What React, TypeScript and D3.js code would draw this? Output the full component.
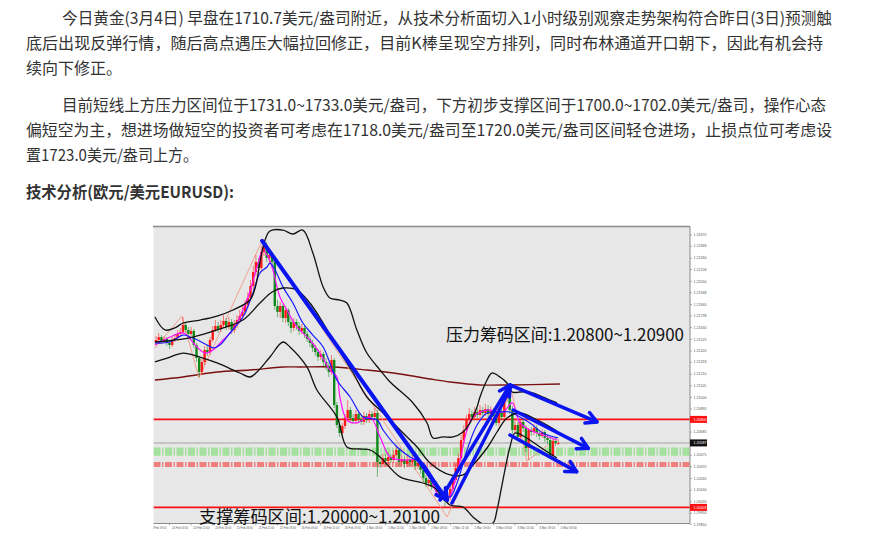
import React from "react";
import * as d3 from "d3";

// ---------- text content ----------
const para1 = [
  "今日黄金(3月4日) 早盘在1710.7美元/盎司附近，从技术分析面切入1小时级别观察走势架构符合昨日(3日)预测触",
  "底后出现反弹行情，随后高点遇压大幅拉回修正，目前K棒呈现空方排列，同时布林通道开口朝下，因此有机会持",
  "续向下修正。",
];
const para2 = [
  "目前短线上方压力区间位于1731.0~1733.0美元/盎司，下方初步支撑区间于1700.0~1702.0美元/盎司，操作心态",
  "偏短空为主，想进场做短空的投资者可考虑在1718.0美元/盎司至1720.0美元/盎司区间轻仓进场，止损点位可考虑设",
  "置1723.0美元/盎司上方。",
];
const heading = "技术分析(欧元/美元EURUSD):";
const resistanceText = "压力筹码区间:1.20800~1.20900";
const supportText = "支撑筹码区间:1.20000~1.20100";

// ---------- chart data (EURUSD H1), prices in 1e-5 units above 1.19000 ----------
const BASE = 1.19;
const firstOpen = 2501;
const closes = [
  2519, 2546, 2510, 2528, 2492, 2474, 2519, 2537, 2573, 2592,
  2655, 2610, 2573, 2601, 2474, 2356, 2229, 2320, 2429, 2410,
  2519, 2610, 2646, 2619, 2655, 2691, 2637, 2682, 2610, 2655,
  2700, 2736, 2773, 2836, 2899, 3008, 3135, 3225, 3171, 3316,
  3379, 3262, 3289, 3225, 2827, 2773, 2827, 2718, 2791, 2682,
  2628, 2682, 2646, 2601, 2628, 2573, 2528, 2492, 2447, 2410,
  2365, 2392, 2320, 2284, 2229, 2338, 1930, 1749, 1677, 1740,
  1813, 1885, 1813, 1786, 1849, 1804, 1777, 1831, 1795, 1849,
  1822, 1858, 1414, 1396, 1450, 1423, 1460, 1432, 1478, 1523,
  1414, 1441, 1396, 1432, 1414, 1441, 1378, 1405, 1342, 1269,
  1224, 1251, 1197, 1215, 1143, 1097, 1125, 1061, 1097, 1170,
  1251, 1360, 1450, 1613, 1704, 1795, 1849, 1822, 1867, 1840,
  1885, 1858, 1894, 1849, 1876, 1831, 1768, 1867, 1822, 1994,
  2048, 1885, 1704, 1749, 1641, 1777, 1722, 1541, 1704, 1686,
  1722, 1677, 1650, 1686, 1632, 1613, 1469, 1604, 1586, 1587,
];
const highs = [
  2555, 2583, 2564, 2555, 2546, 2519, 2546, 2573, 2610, 2628,
  2727, 2682, 2637, 2637, 2619, 2492, 2374, 2347, 2465, 2474,
  2546, 2646, 2700, 2682, 2700, 2745, 2718, 2727, 2709, 2700,
  2745, 2791, 2827, 2881, 2954, 3062, 3189, 3289, 3262, 3370,
  3425, 3407, 3334, 3316, 3244, 2881, 2863, 2845, 2827, 2809,
  2718, 2718, 2709, 2682, 2664, 2655, 2601, 2555, 2519, 2474,
  2438, 2429, 2410, 2356, 2311, 2383, 2356, 1958, 1795, 1768,
  1849, 1976, 1912, 1849, 1885, 1876, 1831, 1867, 1858, 1885,
  1876, 1903, 1885, 1478, 1487, 1478, 1505, 1487, 1523, 1568,
  1541, 1478, 1469, 1469, 1460, 1478, 1469, 1441, 1432, 1369,
  1297, 1288, 1279, 1251, 1242, 1170, 1161, 1152, 1134, 1206,
  1288, 1396, 1487, 1659, 1749, 1840, 1903, 1885, 1912, 1903,
  1930, 1912, 1939, 1930, 1921, 1903, 1867, 1903, 1894, 2021,
  2112, 2084, 1921, 1795, 1777, 1804, 1804, 1749, 1722, 1731,
  1759, 1749, 1704, 1713, 1704, 1659, 1641, 1632, 1632, 1623,
];
const lows = [
  2474, 2501, 2483, 2492, 2465, 2438, 2456, 2501, 2519, 2546,
  2573, 2583, 2546, 2555, 2447, 2320, 2184, 2202, 2293, 2374,
  2383, 2501, 2592, 2583, 2592, 2628, 2610, 2610, 2573, 2583,
  2628, 2673, 2709, 2745, 2809, 2881, 2972, 3099, 3135, 3153,
  3280, 3225, 3216, 3189, 2791, 2727, 2718, 2682, 2673, 2646,
  2583, 2601, 2610, 2564, 2573, 2537, 2501, 2456, 2410, 2374,
  2329, 2338, 2284, 2247, 2184, 2202, 1903, 1722, 1641, 1641,
  1713, 1786, 1786, 1759, 1759, 1777, 1749, 1749, 1768, 1768,
  1795, 1795, 1279, 1360, 1369, 1387, 1396, 1405, 1405, 1450,
  1378, 1378, 1360, 1369, 1378, 1387, 1342, 1351, 1306, 1233,
  1188, 1188, 1161, 1170, 1115, 1061, 1070, 1007, 1034, 1070,
  1143, 1224, 1333, 1423, 1586, 1686, 1768, 1795, 1795, 1804,
  1813, 1822, 1831, 1813, 1822, 1795, 1740, 1740, 1795, 1795,
  1958, 1849, 1668, 1677, 1613, 1613, 1686, 1505, 1432, 1650,
  1659, 1641, 1613, 1632, 1595, 1577, 1441, 1450, 1559, 1568,
];

// indicator readings: [bar index, price units]
const bbUpper: [number, number][] = [
  [-0.4, 2727], [3.3, 2610], [7, 2628], [10, 2673], [16.3, 2700], [22.6, 2736],
  [28.5, 2791], [34.8, 2881], [37, 3017], [38.5, 3225], [40.4, 3425], [42.2, 3506],
  [47, 3515], [50.7, 3479], [54.4, 3515], [58.1, 3307], [61.9, 2999], [64.4, 2899],
  [68.1, 2881], [70.7, 2854], [74.4, 2610], [78.1, 2401], [83, 2247], [86.7, 2139],
  [95.2, 1949], [100.4, 1768], [102.6, 1632], [106.3, 1641], [110, 1641], [113.7, 1686],
  [116.3, 1768], [118.9, 1912], [120, 2003], [122.6, 2157], [124.4, 2220], [127.4, 2184],
  [130, 2130], [131.9, 2048], [134.8, 2048], [138.5, 2048], [143.3, 2003], [148.5, 1949],
];
const bbMiddle: [number, number][] = [
  [-0.4, 2501], [7, 2519], [13.7, 2546], [22.6, 2610], [32.2, 2700], [38.5, 2854],
  [43, 2954], [47, 2990], [52.2, 2972], [57, 2854], [61.9, 2673], [67, 2456],
  [73, 2220], [78.1, 2003], [84.1, 1858], [91.5, 1677], [96.7, 1550], [101.5, 1405],
  [108.9, 1297], [113.7, 1297], [117.4, 1387], [122.6, 1541], [126.3, 1686], [130, 1813],
  [134.8, 1858], [140.4, 1804], [148.5, 1695],
];
const bbLower: [number, number][] = [
  [-0.4, 2320], [5.2, 2365], [10, 2401], [16.3, 2365], [22.6, 2311], [31.1, 2220],
  [34.8, 2184], [37.4, 2229], [42.2, 2365], [47, 2501], [49.6, 2456], [55.9, 2275],
  [59.6, 2066], [67, 1822], [70.7, 1550], [75.6, 1532], [79.3, 1523], [83, 1460],
  [90.4, 1279], [98.9, 1224], [103.3, 1179], [108.9, 1025], [113.7, 1007], [117.4, 916],
  [121.1, 853], [124.8, 862], [126.3, 980], [128.5, 1251], [131.1, 1550], [133, 1677],
  [136.7, 1641], [142.2, 1550], [148.5, 1450],
];
const maBlue: [number, number][] = [
  [-0.4, 2492], [5.2, 2501], [10, 2564], [13.7, 2537], [18.9, 2474], [21.1, 2447],
  [23.7, 2474], [27.4, 2583], [32.2, 2727], [35.9, 2945], [38.5, 3126], [41.1, 3180],
  [42.2, 3216], [44.1, 3153], [47, 3000], [50.7, 2854], [54.4, 2673], [58.1, 2564],
  [61.9, 2456], [67, 2157], [71.9, 2003], [76.7, 1822], [81.9, 1795], [84.1, 1704],
  [89.3, 1550], [94.1, 1460], [98.9, 1405], [101.5, 1315], [106.3, 1134], [108.9, 1097],
  [111.5, 1224], [115.2, 1523], [118.9, 1749], [122.6, 1858], [126.3, 1867], [131.1, 1867],
  [134.8, 1822], [138.5, 1768], [143.3, 1677], [148.9, 1632],
];
const maMagenta: [number, number][] = [
  [-0.4, 2474], [5.2, 2546], [10, 2583], [15.2, 2456], [18.1, 2401], [21.1, 2429],
  [24.8, 2519], [28.5, 2610], [33.7, 2881], [37.4, 3180], [39.6, 3334], [41.5, 3271],
  [43.3, 3153], [45.9, 2909], [48.5, 2791], [52.2, 2637], [57, 2519], [60.7, 2401],
  [64.4, 2247], [67, 2184], [68.1, 2003], [70.7, 1795], [74.4, 1768], [79.3, 1822],
  [83, 1641], [86.7, 1460], [91.5, 1432], [96.7, 1432], [100.4, 1342], [104.1, 1134],
  [107.8, 1070], [111.5, 1315], [115.2, 1704], [117.4, 1822], [122.6, 1885], [128.5, 1867],
  [131.9, 1949], [134.8, 1768], [138.5, 1704], [143.3, 1659], [148.5, 1613],
];
const maLong: [number, number][] = [
  [-0.4, 2157], [10, 2184], [22.6, 2229], [34.8, 2247], [47, 2275], [53.3, 2275],
  [65.6, 2275], [78.1, 2247], [90.4, 2211], [101.5, 2166], [108.9, 2139], [120, 2112],
  [131.1, 2112], [149.6, 2121],
];
const zigzag: [number, number][] = [
  [-0.4, 2447], [9.6, 2736], [15.9, 2175], [39.6, 3434], [107.8, 916],
  [131.1, 2121], [137.4, 1423], [148.5, 1632],
];
// trend arrows: from [bar, price] to [bar, price]
const arrows: { from: [number, number]; to: [number, number]; head: boolean; w: number }[] = [
  { from: [39.3, 3416], to: [107.8, 1070], head: true, w: 4 },
  { from: [105.2, 1070], to: [131.1, 2112], head: true, w: 3.5 },
  { from: [109.6, 1043], to: [131.5, 2094], head: false, w: 3.5 },
  { from: [131.1, 2112], to: [163.3, 1777], head: true, w: 3.5 },
  { from: [132.3, 1885], to: [160.1, 1538], head: true, w: 3.5 },
  { from: [131.1, 1659], to: [155.8, 1327], head: true, w: 3.5 },
];

const priceTicks = [
  1.2247, 1.22368, 1.2226, 1.22158, 1.2205, 1.21948, 1.2184, 1.21738, 1.2163,
  1.21525, 1.2142, 1.21318, 1.2121, 1.21105, 1.21, 1.20895, 1.2079, 1.20685,
  1.2058, 1.20475, 1.2037, 1.20265, 1.2016, 1.20055, 1.1995, 1.1985,
];
const markedPrices = [
  { p: 1.208, color: "#ff1010", label: "1.20800" },
  { p: 1.20587, color: "#111111", label: "1.20587" },
  { p: 1.20003, color: "#ff1010", label: "1.20003" },
];
const redLevels = [1.208, 1.20003];
const currentPrice = 1.20587;
const greenZone = [1.2047, 1.20545];
const redZone = [1.2037, 1.20415];
const dateLabels = [
  "23 Feb 19:00", "24 Feb 03:00", "24 Feb 11:00", "24 Feb 19:00", "25 Feb 03:00",
  "25 Feb 11:00", "25 Feb 19:00", "26 Feb 03:00", "26 Feb 11:00", "26 Feb 19:00",
  "1 Mar 03:00", "1 Mar 11:00", "1 Mar 19:00", "2 Mar 03:00", "2 Mar 11:00",
  "2 Mar 19:00", "3 Mar 03:00", "3 Mar 11:00", "3 Mar 19:00", "4 Mar 03:00",
];
const firstLabelBar = -3;
const barsPerLabel = 8;

const toPrice = (v: number) => BASE + v / 1e5;

const IMG = { left: 153, top: 225, right: 707, bottom: 531 };
const PLOT = { left: 153.5, top: 226.5, right: 690, bottom: 523.5 };
const CJK = "'Noto Sans CJK SC', 'Noto Sans', sans-serif";

export default function App() {
  const x = d3.scaleLinear().domain([0, 149]).range([156, 558.3]);
  const y = d3.scaleLinear().domain([1.2247, 1.1985]).range([235, 524.3]);

  const mkLine = (pts: [number, number][], curve = true) =>
    (d3.line<[number, number]>()
      .x((d) => x(d[0]))
      .y((d) => y(toPrice(d[1])))
      .curve(curve ? d3.curveCatmullRom.alpha(0.5) : d3.curveLinear)(pts) as string);

  const candles = closes.map((c, i) => {
    const o = i === 0 ? firstOpen : closes[i - 1];
    const h = Math.max(highs[i], o, c);
    const l = Math.min(lows[i], o, c);
    return { i, o, c, h, l, up: c >= o };
  });

  const arrowEls = arrows.map((a, k) => {
    const x1 = x(a.from[0]), y1 = y(toPrice(a.from[1]));
    const x2 = x(a.to[0]), y2 = y(toPrice(a.to[1]));
    const ang = Math.atan2(y2 - y1, x2 - x1);
    const len = 12, spread = 0.5;
    const hx1 = x2 - len * Math.cos(ang - spread), hy1 = y2 - len * Math.sin(ang - spread);
    const hx2 = x2 - len * Math.cos(ang + spread), hy2 = y2 - len * Math.sin(ang + spread);
    return (
      <g key={k} stroke="#0a14f0" strokeWidth={a.w} strokeLinecap="round" fill="none">
        <line x1={x1} y1={y1} x2={x2} y2={y2} />
        {a.head && <polyline points={`${hx1},${hy1} ${x2},${y2} ${hx2},${hy2}`} strokeLinejoin="round" />}
      </g>
    );
  });

  const textLines: { t: string; x: number; y: number; len?: number; bold?: boolean }[] = [
    { t: para1[0], x: 62, y: 24, len: 770 },
    { t: para1[1], x: 26, y: 49, len: 797 },
    { t: para1[2], x: 26, y: 74 },
    { t: para2[0], x: 62, y: 111, len: 764 },
    { t: para2[1], x: 26, y: 136, len: 806 },
    { t: para2[2], x: 26, y: 161, len: 172 },
    { t: heading, x: 26, y: 198, len: 208, bold: true },
  ];

  return (
    <svg
      width={892}
      height={537}
      style={{ position: "absolute", left: 0, top: 0, background: "#fff" }}
      xmlns="http://www.w3.org/2000/svg"
    >
      <defs>
        <clipPath id="plotClip">
          <rect x={PLOT.left} y={PLOT.top} width={PLOT.right - PLOT.left} height={PLOT.bottom - PLOT.top} />
        </clipPath>
        <clipPath id="imgClip">
          <rect x={IMG.left} y={IMG.top} width={IMG.right - IMG.left} height={IMG.bottom - IMG.top} />
        </clipPath>
      </defs>
      <rect width={892} height={537} fill="#fff" />

      {textLines.map((l, k) => (
        <text
          key={k}
          x={l.x}
          y={l.y}
          fontFamily={CJK}
          fontSize={16}
          fontWeight={l.bold ? 700 : 400}
          fill="#333"
          textLength={l.len}
          lengthAdjust={l.len ? "spacingAndGlyphs" : undefined}
        >
          {l.t}
        </text>
      ))}

      {/* chart image */}
      <g clipPath="url(#imgClip)">
        <rect x={IMG.left} y={IMG.top} width={IMG.right - IMG.left} height={IMG.bottom - IMG.top} fill="#fff" />
        <rect x={PLOT.left} y={PLOT.top} width={PLOT.right - PLOT.left} height={PLOT.bottom - PLOT.top} fill="#e7e7e7" />

        <g clipPath="url(#plotClip)">
          {/* zones */}
          <line
            x1={PLOT.left} x2={PLOT.right}
            y1={(y(greenZone[0]) + y(greenZone[1])) / 2} y2={(y(greenZone[0]) + y(greenZone[1])) / 2}
            stroke="#a4e09e" strokeWidth={y(greenZone[0]) - y(greenZone[1])} strokeDasharray="7 1.5 1.5 1.5"
          />
          <line
            x1={PLOT.left} x2={PLOT.right}
            y1={(y(redZone[0]) + y(redZone[1])) / 2} y2={(y(redZone[0]) + y(redZone[1])) / 2}
            stroke="#f08080" strokeWidth={y(redZone[0]) - y(redZone[1])} strokeDasharray="7 1.5 1.5 1.5"
          />
          <line x1={PLOT.left} x2={PLOT.right} y1={y(currentPrice)} y2={y(currentPrice)} stroke="#b8b8b8" strokeWidth={1.5} />
          {redLevels.map((p) => (
            <line key={p} x1={PLOT.left} x2={PLOT.right} y1={y(p)} y2={y(p)} stroke="#ff1010" strokeWidth={1.6} />
          ))}

          {/* long MA */}
          <path d={mkLine(maLong)} fill="none" stroke="#7a1010" strokeWidth={1.4} />
          {/* zigzag */}
          <path d={mkLine(zigzag, false)} fill="none" stroke="#f2a08e" strokeWidth={1} />

          {/* candles */}
          {candles.map((d) => {
            const cx = x(d.i);
            const col = d.up ? "#ff1a1a" : "#11891a";
            const yo = y(toPrice(d.o)), yc = y(toPrice(d.c));
            const top = Math.min(yo, yc), bh = Math.max(1, Math.abs(yo - yc));
            return (
              <g key={d.i}>
                <line x1={cx} x2={cx} y1={y(toPrice(d.h))} y2={y(toPrice(d.l))} stroke={col} strokeOpacity={0.55} strokeWidth={1} />
                <rect x={cx - 1.2} y={top} width={2.4} height={bh} fill={col} />
              </g>
            );
          })}

          {/* MAs and bands */}
          <path d={mkLine(maMagenta)} fill="none" stroke="#ff10ff" strokeWidth={1.2} />
          <path d={mkLine(maBlue)} fill="none" stroke="#1a1aff" strokeWidth={1.2} />
          <path d={mkLine(bbUpper)} fill="none" stroke="#111" strokeWidth={1.3} />
          <path d={mkLine(bbMiddle)} fill="none" stroke="#111" strokeWidth={1.3} />
          <path d={mkLine(bbLower)} fill="none" stroke="#111" strokeWidth={1.3} />

          {arrowEls}
        </g>

        {/* borders / axes */}
        <line x1={IMG.left} x2={PLOT.right} y1={PLOT.top} y2={PLOT.top} stroke="#8a8a8a" strokeWidth={1.6} />
        <line x1={PLOT.right} x2={PLOT.right} y1={PLOT.top} y2={PLOT.bottom} stroke="#8a8a8a" strokeWidth={1} />
        <line x1={PLOT.left} x2={PLOT.right} y1={PLOT.bottom} y2={PLOT.bottom} stroke="#8a8a8a" strokeWidth={1} />

        {priceTicks.map((p) => (
          <g key={p}>
            <line x1={PLOT.right} x2={PLOT.right + 2} y1={y(p)} y2={y(p)} stroke="#777" strokeWidth={0.6} />
            <text x={PLOT.right + 3.5} y={y(p) + 1.2} fontSize={3.6} fontFamily="'Liberation Sans', sans-serif" fill="#555">
              {p.toFixed(5)}
            </text>
          </g>
        ))}
        {markedPrices.map((m) => (
          <g key={m.label}>
            <rect x={PLOT.right} y={y(m.p) - 3.5} width={IMG.right - PLOT.right} height={7} fill={m.color} />
            <text x={PLOT.right + 3.5} y={y(m.p) + 1.3} fontSize={3.6} fontFamily="'Liberation Sans', sans-serif" fill="#fff">
              {m.label}
            </text>
          </g>
        ))}

        {dateLabels.map((lab, k) => {
          const bx = x(firstLabelBar + k * barsPerLabel);
          return (
            <g key={lab}>
              <line x1={bx} x2={bx} y1={PLOT.bottom} y2={PLOT.bottom + 2} stroke="#777" strokeWidth={0.6} />
              <text
                x={bx + 2.5}
                y={PLOT.bottom + 5.8}
                fontSize={3}
                fontFamily="'Liberation Sans', sans-serif"
                fill="#555"
                textLength={16}
                lengthAdjust="spacingAndGlyphs"
              >
                {lab}
              </text>
            </g>
          );
        })}

        {/* annotations */}
        <text x={446} y={341} fontSize={17} fontFamily={CJK} fill="#111" textLength={238} lengthAdjust="spacingAndGlyphs">
          {resistanceText}
        </text>
        <text x={199} y={522.5} fontSize={17} fontFamily={CJK} fill="#111" textLength={241} lengthAdjust="spacingAndGlyphs">
          {supportText}
        </text>
      </g>
    </svg>
  );
}
